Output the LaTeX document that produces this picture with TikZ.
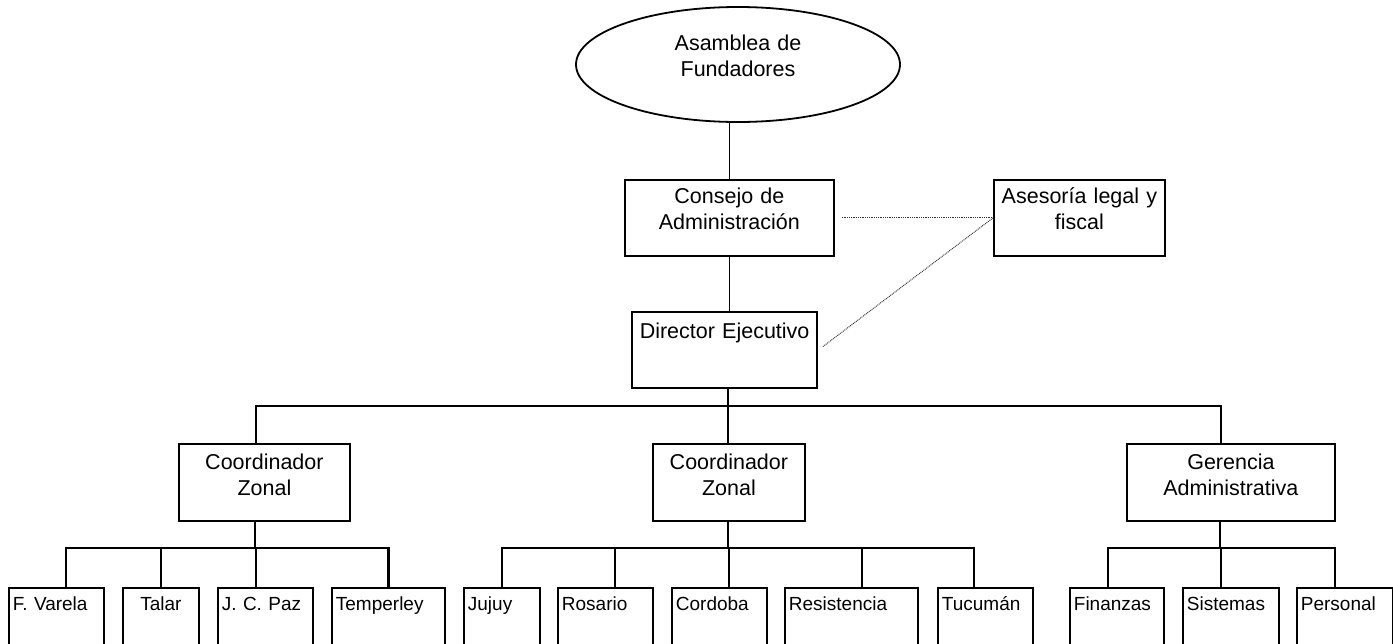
\documentclass[tikz,border=0pt]{standalone}
\usepackage{fontspec}
\setmainfont{Liberation Sans}
\usetikzlibrary{shapes.geometric}
\newcommand\grande{\fontsize{21.5pt}{26pt}\selectfont}
\newcommand\chico{\fontsize{19pt}{23pt}\selectfont}
\tikzset{
  caja/.style={draw, line width=1.8pt, rectangle, anchor=north west, inner xsep=4pt, inner ysep=0pt,
    align=center, font=\grande, text height=24pt, text depth=52pt},
  cajita/.style={caja, align=left, font=\chico, text height=23pt, text depth=60pt},
  linea/.style={line width=1.5pt},
  gruesa/.style={line width=2.6pt},
  punteada/.style={line width=1pt, dash pattern=on 0.9pt off 0.9pt, black!80}
}
\begin{document}
\begin{tikzpicture}[x=1pt, y=-1pt]
  \useasboundingbox (0,0) rectangle (1393,643);
  % cabecera
  \node[ellipse, draw, line width=1.8pt, minimum width=324pt, minimum height=115pt, inner sep=0pt,
    text width=200pt, align=center, font=\grande, text height=16pt, text depth=45pt] (asamblea) at (738,64.5) {Asamblea de\\Fundadores};
  \node[caja, text width=201pt] (consejo) at (624,179) {Consejo de\\Administración};
  \node[caja, text width=163pt] (asesoria) at (993,179) {Asesoría legal y\\fiscal};
  \node[caja, text width=177pt, line width=2.2pt, text height=26pt, text depth=50pt] (director) at (631,311) {Director Ejecutivo};
  % segundo nivel
  \node[caja, text width=163pt, text height=26pt, text depth=51pt] (coordA) at (178,443) {Coordinador\\Zonal};
  \node[caja, text width=144pt, text height=26pt, text depth=51pt] (coordB) at (652,443) {Coordinador\\Zonal};
  \node[caja, text width=200pt, text height=26pt, text depth=51pt] (gerencia) at (1126,443) {Gerencia\\Administrativa};
  % sedes y areas
  \foreach \nombre/\x/\w/\txt in {varela/8/87/F. Varela, paz/217/87/J. C. Paz, temperley/331/105/Temperley,
      jujuy/463/68/Jujuy, rosario/557/87/Rosario, cordoba/671/87/Cordoba, resistencia/784/125/Resistencia,
      tucuman/937/87/Tucumán, finanzas/1069/86/Finanzas, sistemas/1182/88/Sistemas, personal/1296/88/Personal}
    \node[cajita, text width=\w pt] (\nombre) at (\x,587) {\txt};
  \node[cajita, text width=68pt, align=center] (talar) at (122,587) {Talar};
  % conexiones
  \draw[linea] (asamblea.south -| consejo.north) -- (consejo.north);
  \draw[linea] (consejo.south) -- (consejo.south |- director.north);
  \coordinate (barra) at (728,406);
  \draw[linea] (director.south -| barra) -- (barra);
  \draw[linea] ([xshift=-8.5pt]coordA.north) |- (barra) -| ([xshift=-10pt]gerencia.north);
  \draw[linea] (barra) -- (barra |- coordB.north);
  \draw[punteada, shorten <=7pt] (consejo.east) -- (asesoria.west);
  \draw[punteada, shorten >=6pt] (asesoria.west) -- (director.east);
  % grupo A
  \coordinate (nudoA) at (255,548);
  \draw[gruesa] (coordA.south -| nudoA) -- (nudoA);
  \draw[gruesa] ([xshift=9.5pt]varela.north) |- (nudoA) -| (temperley.north);
  \foreach \nombre/\dx in {talar/0, paz/-9.5}
    \draw[gruesa] ([xshift=\dx pt]\nombre.north) -- ([xshift=\dx pt]\nombre.north |- nudoA);
  % grupo B
  \coordinate (nudoB) at (728,548);
  \draw[gruesa] (coordB.south -| nudoB) -- (nudoB);
  \draw[gruesa] (jujuy.north) |- (nudoB) -| ([xshift=-11.5pt]tucuman.north);
  \foreach \nombre/\dx in {rosario/9.5, cordoba/9.5, resistencia/10.5}
    \draw[gruesa] ([xshift=\dx pt]\nombre.north) -- ([xshift=\dx pt]\nombre.north |- nudoB);
  % grupo C
  \coordinate (nudoC) at (1220,548);
  \draw[linea] (gerencia.south -| nudoC) -- (nudoC);
  \draw[linea] ([xshift=-9pt]finanzas.north) |- (nudoC) -| ([xshift=-10pt]personal.north);
  \draw[linea] ([xshift=-10pt]sistemas.north) -- ([xshift=-10pt]sistemas.north |- nudoC);
\end{tikzpicture}
\end{document}
